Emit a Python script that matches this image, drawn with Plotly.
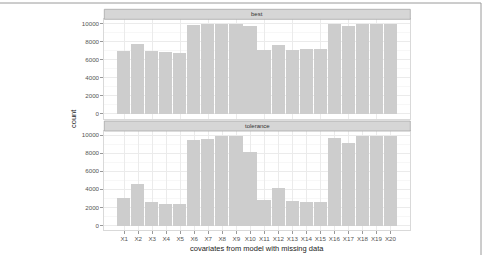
import plotly.graph_objects as go

categories = [f"X{i}" for i in range(1, 21)]
best = [6970, 7780, 6930, 6820, 6680, 9810, 9950, 10000, 10000, 9700,
        7010, 7600, 7040, 7220, 7120, 9970, 9740, 10000, 10000, 10000]
tolerance = [3050, 4600, 2620, 2400, 2400, 9450, 9560, 10000, 10000, 8130,
             2860, 4170, 2740, 2600, 2660, 9680, 9130, 10000, 10000, 10000]
panel_labels = ["best", "tolerance"]
y_ticks = [0, 2000, 4000, 6000, 8000, 10000]
y_tick_labels = ["0", "2000", "4000", "6000", "8000", "10000"]

W, H = 482, 255
BAR = "#CDCDCD"

fig = go.Figure()
fig.add_trace(go.Bar(x=categories, y=best, marker=dict(color=BAR, line=dict(width=0)),
                     width=0.93, xaxis="x", yaxis="y", showlegend=False))
fig.add_trace(go.Bar(x=categories, y=tolerance, marker=dict(color=BAR, line=dict(width=0)),
                     width=0.93, xaxis="x2", yaxis="y2", showlegend=False))

def px_x(p):
    return p / W

def px_y(p):
    return 1 - p / H

xl, xr = px_x(104.3), px_x(410.3)
p1t, p1b = 19.3, 118.5
p2t, p2b = 130.7, 229.9
s1t, s2t = 9.3, 121.0

tickfont = dict(family="Liberation Sans, Arial, sans-serif", size=6.2, color="#555555")
common_x = dict(type="category", range=[-1.42, 20.42], showgrid=True, gridcolor="#EBEBEB",
                gridwidth=1, zeroline=False, showline=True, linecolor="#D9D9D9", mirror=True,
                tickfont=tickfont, ticklen=3, tickcolor="#999999",
                tickwidth=0.8, domain=[xl, xr])
common_y = dict(range=[-500, 10500], tickvals=y_ticks, ticktext=y_tick_labels,
                showgrid=True, gridcolor="#EBEBEB",
                zeroline=False, showline=True, linecolor="#D9D9D9", mirror=True,
                tickfont=tickfont, ticks="outside", ticklen=3, tickcolor="#999999",
                tickwidth=0.8, minor=dict(dtick=1000, tick0=1000, showgrid=True, gridcolor="#F7F7F7"))

fig.update_layout(
    width=W, height=H, margin=dict(l=0, r=0, t=0, b=0),
    paper_bgcolor="white", plot_bgcolor="white", bargap=0,
    font=dict(family="Liberation Sans, Arial, sans-serif", color="#333333"),
    xaxis=dict(**common_x, anchor="y", showticklabels=False, ticks=""),
    yaxis=dict(**common_y, anchor="x", domain=[px_y(p1b), px_y(p1t)]),
    xaxis2=dict(**common_x, anchor="y2", ticks="outside"),
    yaxis2=dict(**common_y, anchor="x2", domain=[px_y(p2b), px_y(p2t)]),
)

shapes = []
annotations = []
for top, label in zip([s1t, s2t], panel_labels):
    bottom = top + (p1t - s1t)
    shapes.append(dict(type="rect", xref="paper", yref="paper", x0=xl, x1=xr,
                       y0=px_y(bottom), y1=px_y(top), fillcolor="#D6D6D6",
                       line=dict(color="#A8A8A8", width=0.8), layer="above"))
    annotations.append(dict(xref="paper", yref="paper", x=(xl + xr) / 2, y=px_y((top + bottom) / 2),
                            text=label, showarrow=False, xanchor="center", yanchor="middle",
                            font=dict(size=6, color="#333333")))
# outer frame (top and right edges)
shapes.append(dict(type="line", xref="paper", yref="paper", x0=0, x1=px_x(481), y0=px_y(3), y1=px_y(3),
                   line=dict(color="#9A9A9A", width=1)))
shapes.append(dict(type="line", xref="paper", yref="paper", x0=px_x(481), x1=px_x(481), y0=0, y1=px_y(3),
                   line=dict(color="#9A9A9A", width=1)))

annotations.append(dict(xref="paper", yref="paper", x=(xl + xr) / 2, y=px_y(248),
                        text="covariates from model with missing data", showarrow=False,
                        xanchor="center", yanchor="middle", font=dict(size=7.5, color="#222222")))
annotations.append(dict(xref="paper", yref="paper", x=px_x(73), y=px_y(119),
                        text="count", showarrow=False, textangle=-90,
                        xanchor="center", yanchor="middle", font=dict(size=7.5, color="#222222")))

fig.update_layout(shapes=shapes, annotations=annotations)
fig.write_html("out.html")
